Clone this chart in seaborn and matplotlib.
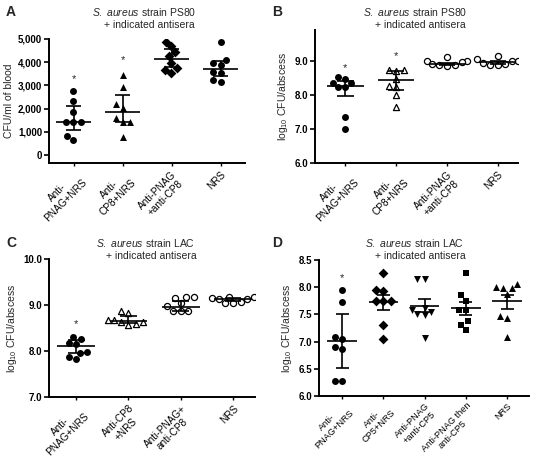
import numpy as np
import pandas as pd
import matplotlib
matplotlib.use("Agg")
import matplotlib.pyplot as plt
import seaborn as sns

sns.set_theme(style="ticks")
plt.rcParams['font.family'] = ['Liberation Sans', 'DejaVu Sans']
plt.rcParams['mathtext.fontset'] = 'custom'
plt.rcParams['mathtext.rm'] = 'Liberation Sans'
plt.rcParams['mathtext.it'] = 'Liberation Sans:italic'

# ---------------- data ----------------
# Panel A: CFU/ml of blood, S. aureus PS80
a_labels = ["Anti-\nPNAG+NRS", "Anti-\nCP8+NRS", "Anti-PNAG\n+anti-CP8", "NRS"]
a_g1 = [2770, 2340, 1850, 1440, 1440, 1440, 800, 660]
a_g2 = [3440, 2920, 2180, 2010, 1600, 1440, 1440, 770]
a_g3 = [4870, 4690, 4420, 4260, 3980, 3750, 3660, 3550]
a_g4 = [4870, 4100, 3970, 3890, 3590, 3550, 3215, 3150]
a_mid = [1440, 1846, 4128, 3725]
a_low = [1080, 1443, 3779, 3389]
a_high = [2100, 2570, 4557, 4060]
a_star = [3280, 4070, None, None]

# Panel B: log10 CFU/abscess, PS80
b_labels = ["Anti-\nPNAG+NRS", "Anti-\nCP8+NRS", "Anti-PNAG\n+anti-CP8", "NRS"]
b_g1 = [8.51, 8.47, 8.36, 8.36, 8.22, 8.22, 7.36, 6.99]
b_g2 = [8.74, 8.72, 8.70, 8.46, 8.26, 8.24, 8.00, 7.63]
b_g3 = [9.12, 9.00, 8.98, 8.95, 8.90, 8.88, 8.86, 8.85]
b_g4 = [9.15, 9.05, 9.00, 8.98, 8.94, 8.90, 8.88, 8.86]
b_mid = [8.26, 8.43, 8.90, 8.95]
b_low = [7.95, 8.15, 8.86, 8.90]
b_high = [8.39, 8.69, 8.94, 8.99]
b_star = [8.78, 9.13, None, None]

# Panel C: log10 CFU/abscess, LAC
c_labels = ["Anti-\nPNAG+NRS", "Anti-CP8\n+NRS", "Anti-PNAG+\nanti-CP8", "NRS"]
c_g1 = [8.30, 8.27, 8.18, 8.15, 7.97, 7.96, 7.86, 7.83]
c_g2 = [8.87, 8.82, 8.68, 8.68, 8.64, 8.62, 8.58, 8.56]
c_g3 = [9.18, 9.17, 9.16, 9.05, 8.98, 8.88, 8.88, 8.87]
c_g4 = [9.18, 9.17, 9.15, 9.14, 9.12, 9.06, 9.04, 9.04]
c_mid = [8.10, 8.65, 8.96, 9.12]
c_low = [7.96, 8.60, 8.88, 9.08]
c_high = [8.24, 8.76, 9.08, 9.15]
c_star = [8.59, None, None, None]

# Panel D: log10 CFU/abscess, LAC
d_labels = ["Anti-\nPNAG+NRS", "Anti-\nCP5+NRS", "Anti-PNAG\n+anti-CP5",
            "Anti-PNAG then\nanti-CP5", "NRS"]
d_g1 = [7.94, 7.73, 7.08, 7.04, 6.90, 6.87, 6.28, 6.28]
d_g2 = [8.26, 7.95, 7.93, 7.74, 7.74, 7.74, 7.30, 7.05]
d_g3 = [8.15, 8.15, 7.62, 7.58, 7.55, 7.50, 7.48, 7.07]
d_g4 = [8.26, 7.85, 7.75, 7.58, 7.58, 7.37, 7.31, 7.21]
d_g5 = [8.06, 8.01, 7.98, 7.98, 7.88, 7.47, 7.44, 7.08]
d_mid = [7.02, 7.72, 7.66, 7.61, 7.74]
d_low = [6.52, 7.58, 7.55, 7.49, 7.60]
d_high = [7.51, 7.86, 7.79, 7.73, 7.86]
d_star = [8.16, None, None, None, None]

W, H = 536, 463
fig = plt.figure(figsize=(W / 100, H / 100), dpi=100)


def axes_px(left, right, top, bottom):
    return fig.add_axes([left / W, 1 - bottom / H, (right - left) / W, (bottom - top) / H])


def panel(ax, labels, groups, markers, filled, mid, low, high, stars, ylim, yticks,
          yticklabels, ylabel, xlim, strain, letter, letter_xy, title_xy, size,
          xfs=7.2, xpad=2):
    for i, (vals, m, f) in enumerate(zip(groups, markers, filled)):
        cat = [labels[i]] * len(vals)
        if f:
            sns.swarmplot(x=cat, y=vals, order=labels, ax=ax, marker=m, color="black",
                          size=size, linewidth=0, zorder=3)
        else:
            sns.swarmplot(x=cat, y=vals, order=labels, ax=ax, marker=m, color="white",
                          edgecolor="black", linewidth=0.9, size=size - 0.6, zorder=3)
    pos = np.arange(len(labels))
    ax.hlines(mid, pos - 0.36, pos + 0.36, color="black", lw=1.2, zorder=4)
    ax.vlines(pos, low, high, color="black", lw=1.2, zorder=4)
    ax.hlines(low, pos - 0.16, pos + 0.16, color="black", lw=1.2, zorder=4)
    ax.hlines(high, pos - 0.16, pos + 0.16, color="black", lw=1.2, zorder=4)
    for p, s in zip(pos, stars):
        if s is not None:
            ax.text(p, s, "*", ha="center", va="center", fontsize=8)
    ax.set_xlim(*xlim)
    ax.set_ylim(*ylim)
    ax.set_yticks(yticks)
    ax.set_yticklabels(yticklabels, fontsize=7, fontweight="bold")
    ax.set_xticks(pos)
    ax.set_xticklabels(labels, rotation=45, ha="right", rotation_mode="anchor",
                       fontsize=xfs, multialignment="center", linespacing=1.15)
    ax.set_ylabel(ylabel, fontsize=7.5, labelpad=3)
    ax.set_xlabel("")
    for sp in ["top", "right"]:
        ax.spines[sp].set_visible(False)
    for sp in ["left", "bottom"]:
        ax.spines[sp].set_linewidth(1.4)
        ax.spines[sp].set_color("black")
    ax.tick_params(axis="y", length=3.5, width=1.2, pad=1.5, colors="black")
    ax.tick_params(axis="x", length=2.5, width=1.0, pad=xpad, colors="black")
    tx, ty = title_xy
    fig.text(tx / W, 1 - ty / H, r"$\it{S.\ aureus}$ strain " + strain,
             fontsize=7.5, ha="center", va="center")
    fig.text((tx + 5) / W, 1 - (ty + 13) / H, "+ indicated antisera",
             fontsize=7.5, ha="center", va="center")
    fig.text(letter_xy[0] / W, 1 - letter_xy[1] / H, letter, fontsize=10,
             fontweight="bold", ha="left", va="center")


axA = axes_px(49, 245, 39, 163)
panel(axA, a_labels, [a_g1, a_g2, a_g3, a_g4], ["o", "^", "D", "o"],
      [True, True, True, True], a_mid, a_low, a_high, a_star,
      (-345, 5000), [0, 1000, 2000, 3000, 4000, 5000],
      ["0", "1,000", "2,000", "3,000", "4,000", "5,000"], "CFU/ml of blood",
      (-0.5, 3.5), "PS80", "A", (6, 12), (144, 12), 5)

axB = axes_px(315, 518, 30, 163)
panel(axB, b_labels, [b_g1, b_g2, b_g3, b_g4], ["o", "^", "o", "o"],
      [True, False, False, False], b_mid, b_low, b_high, b_star,
      (6.0, 9.9), [6, 7, 8, 9], ["6.0", "7.0", "8.0", "9.0"],
      r"log$_{10}$ CFU/abscess", (-0.6, 3.4), "PS80", "B", (272, 12), (415, 12), 5)

axC = axes_px(49, 255, 259, 397)
panel(axC, c_labels, [c_g1, c_g2, c_g3, c_g4], ["o", "^", "o", "o"],
      [True, False, False, False], c_mid, c_low, c_high, c_star,
      (7.0, 10.0), [7, 8, 9, 10], ["7.0", "8.0", "9.0", "10.0"],
      r"log$_{10}$ CFU/abscess", (-0.52, 3.42), "LAC", "C", (6, 243), (146, 243), 5)

axD = axes_px(319, 529, 260, 396)
panel(axD, d_labels, [d_g1, d_g2, d_g3, d_g4, d_g5], ["o", "D", "v", "s", "^"],
      [True, True, True, True, True], d_mid, d_low, d_high, d_star,
      (6.0, 8.5), [6.0, 6.5, 7.0, 7.5, 8.0, 8.5],
      ["6.0", "6.5", "7.0", "7.5", "8.0", "8.5"],
      r"log$_{10}$ CFU/abscess", (-0.56, 4.53), "LAC", "D", (272, 243), (415, 243), 5,
      xfs=6.6, xpad=1.2)

fig.savefig("out.png", dpi=100)
